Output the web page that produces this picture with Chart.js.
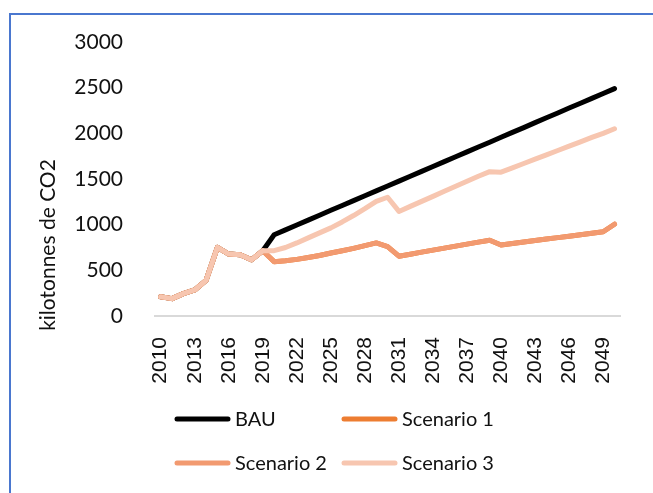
<!DOCTYPE html>
<html>
<head>
<meta charset="utf-8">
<script src="https://cdn.jsdelivr.net/npm/chart.js@4.4.1/dist/chart.umd.min.js"></script>
<style>
	html, body { margin: 0; padding: 0; background: #fff; }
	#wrap { position: relative; width: 653px; height: 493px; overflow: hidden; }
	#frame { position: absolute; left: 9px; top: 13px; width: 700px; height: 600px;
		border-left: 2px solid #4A77CF; border-top: 2px solid #4A77CF; }
	canvas { position: absolute; left: 0; top: 0; }
</style>
</head>
<body>
<div id="wrap">
	<div id="frame"></div>
	<canvas id="co2Chart" width="653" height="493"></canvas>
</div>
<script>
const years = [
	2010, 2011, 2012, 2013, 2014, 2015, 2016, 2017, 2018, 2019,
	2020, 2021, 2022, 2023, 2024, 2025, 2026, 2027, 2028, 2029,
	2030, 2031, 2032, 2033, 2034, 2035, 2036, 2037, 2038, 2039,
	2040, 2041, 2042, 2043, 2044, 2045, 2046, 2047, 2048, 2049, 2050
];

// 2010-2019 historique, commun à toutes les courbes
const bau = [
	210, 190, 245, 285, 390, 752, 678, 670, 615, 715,
	890, 943, 997, 1050, 1103, 1157, 1210, 1263, 1317, 1370,
	1423, 1477, 1530, 1583, 1637, 1690, 1743, 1797, 1850, 1903,
	1957, 2010, 2063, 2117, 2170, 2223, 2277, 2330, 2383, 2437, 2490
];

const scenario1 = [
	210, 190, 245, 285, 390, 752, 678, 670, 615, 715,
	595, 605, 620, 640, 662, 690, 715, 740, 770, 800,
	760, 655, 677, 699, 721, 743, 765, 787, 809, 830,
	778, 794, 810, 826, 842, 858, 874, 890, 906, 922, 1005
];

const scenario2 = [
	210, 190, 245, 285, 390, 752, 678, 670, 615, 715,
	595, 605, 620, 640, 662, 690, 715, 740, 770, 800,
	760, 655, 677, 699, 721, 743, 765, 787, 809, 830,
	778, 794, 810, 826, 842, 858, 874, 890, 906, 922, 1005
];

const scenario3 = [
	210, 190, 245, 285, 390, 752, 678, 670, 615, 715,
	715, 750, 800, 855, 910, 965, 1030, 1100, 1175, 1255,
	1300, 1145, 1200, 1255, 1310, 1365, 1420, 1475, 1530, 1580,
	1575, 1622, 1670, 1717, 1765, 1812, 1860, 1907, 1955, 2000, 2050
];

const seriesNames = ['BAU', 'Scenario 1', 'Scenario 2', 'Scenario 3'];
const seriesColors = ['#000000', '#ED7D31', '#F29A70', '#F7C6B0'];
const yTitle = 'kilotonnes de CO2';

const textColor = '#111111';

function makeDataset(idx, values) {
	return {
		label: seriesNames[idx],
		data: values,
		borderColor: seriesColors[idx],
		backgroundColor: seriesColors[idx],
		borderWidth: 5,
		borderJoinStyle: 'round',
		borderCapStyle: 'round',
		pointRadius: 0,
		tension: 0,
		order: 4 - idx // Scenario 3 tout en haut
	};
}

// titre de l'axe Y et légende sur deux colonnes
const extrasPlugin = {
	id: 'extras',
	afterDraw(chart) {
		const ctx = chart.ctx;
		ctx.save();
		ctx.fillStyle = textColor;
		ctx.font = '21px Lato';
		ctx.translate(48, 245);
		ctx.rotate(-Math.PI / 2);
		ctx.textAlign = 'center';
		ctx.textBaseline = 'middle';
		ctx.fillText(yTitle, 0, 0);
		ctx.restore();

		const cols = [175, 342];
		const rows = [419, 463];
		ctx.save();
		ctx.font = '20px Lato';
		ctx.textBaseline = 'middle';
		ctx.textAlign = 'left';
		ctx.lineWidth = 5;
		ctx.lineCap = 'round';
		for (let i = 0; i < seriesNames.length; i++) {
			let x = cols[i % 2];
			let y = rows[Math.floor(i / 2)];
			ctx.strokeStyle = seriesColors[i];
			ctx.beginPath();
			ctx.moveTo(x + 2, y);
			ctx.lineTo(x + 53, y);
			ctx.stroke();
			ctx.fillStyle = textColor;
			ctx.fillText(seriesNames[i], x + 60, y + 1);
		}
		ctx.restore();
	}
};

const co2Chart = new Chart(document.getElementById('co2Chart'), {
	type: 'line',
	data: {
		labels: years,
		datasets: [
			makeDataset(0, bau),
			makeDataset(1, scenario1),
			makeDataset(2, scenario2),
			makeDataset(3, scenario3)
		]
	},
	options: {
		responsive: false,
		animation: false,
		devicePixelRatio: 1,
		events: [],
		layout: {
			padding: { top: 42, right: 23, bottom: 105, left: 0 }
		},
		plugins: {
			legend: { display: false },
			tooltip: { enabled: false }
		},
		scales: {
			x: {
				offset: true,
				grid: { display: false },
				border: { display: true, color: '#D9D9D9', width: 2 },
				ticks: {
					autoSkip: false,
					maxRotation: 90,
					minRotation: 90,
					padding: 13,
					color: textColor,
					font: { family: 'Liberation Sans', size: 21 },
					callback: function (val, index) {
						return index % 3 === 0 ? this.getLabelForValue(val) : '';
					}
				},
				afterFit: function (scale) { scale.height = 72; }
			},
			y: {
				min: 0,
				max: 3000,
				grid: { display: false },
				border: { display: false },
				ticks: {
					stepSize: 500,
					padding: 24,
					color: textColor,
					font: { family: 'Lato', size: 21 },
					callback: function (val) { return String(val); }
				},
				afterFit: function (scale) { scale.width = 155; }
			}
		}
	},
	plugins: [extrasPlugin]
});
</script>
</body>
</html>
